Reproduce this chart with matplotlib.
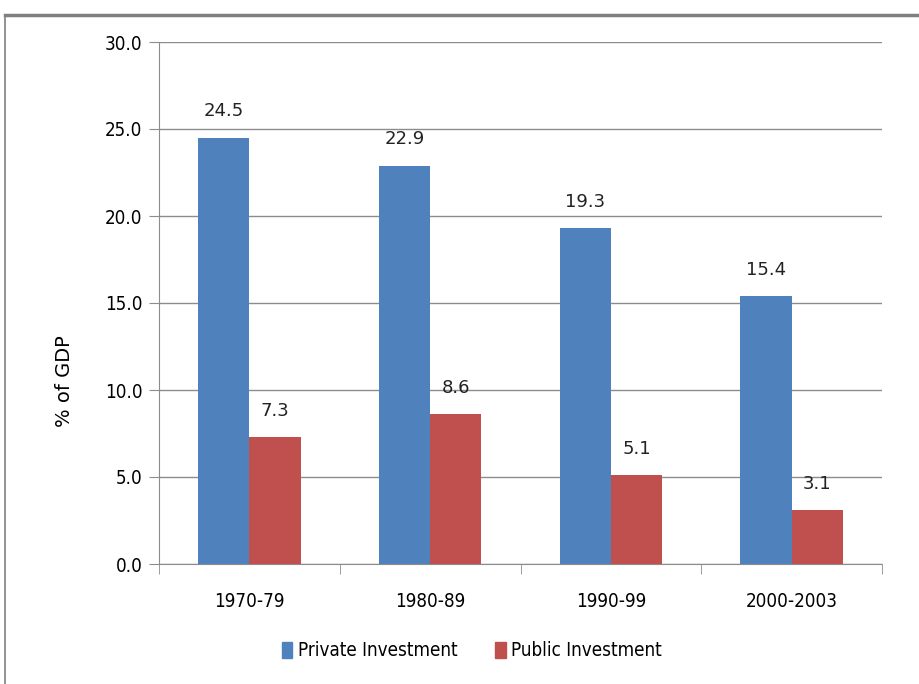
import matplotlib
matplotlib.use("Agg")
import matplotlib.pyplot as plt
import numpy as np
from matplotlib.patches import Rectangle
from matplotlib.lines import Line2D
from matplotlib import font_manager as fm

categories = ["1970-79", "1980-89", "1990-99", "2000-2003"]
private = [24.5, 22.9, 19.3, 15.4]
public = [7.3, 8.6, 5.1, 3.1]
series_names = ["Private Investment", "Public Investment"]
yticks = [0, 5, 10, 15, 20, 25, 30]

# find a narrow/condensed font if any is installed
cands = []
for f in fm.fontManager.ttflist:
    nm = f.name.lower()
    fn = f.fname.lower()
    if ("narrow" in nm or "condensed" in nm or "narrow" in fn or "condensed" in fn
            or f.stretch in ("condensed", "semi-condensed", "extra-condensed")):
        if f.weight in (400, "normal", "regular") and f.style == "normal" and "semi" not in fn and "extra" not in fn:
            cands.append(f)
narrow_fp = None
pref = ["liberationsansnarrow-regular", "dejavusanscondensed.ttf", "roboto", "opensans", "noto"]
for p in pref:
    for f in cands:
        if p in f.fname.lower().replace(" ", "").replace("_", ""):
            narrow_fp = fm.FontProperties(fname=f.fname)
            break
    if narrow_fp is not None:
        break
if narrow_fp is None and cands:
    narrow_fp = fm.FontProperties(fname=cands[0].fname)
if narrow_fp is None:
    narrow_fp = fm.FontProperties(family="DejaVu Sans")

def nfp(size):
    p = narrow_fp.copy()
    p.set_size(size)
    return p

blue = "#4F81BD"
red = "#C0504D"

fig = plt.figure(figsize=(9.19, 6.84), dpi=100)
W, H = 919, 684
ax = fig.add_axes([159 / W, 1 - 564 / H, (882 - 159) / W, (564 - 42) / H])

x = np.arange(len(categories))
bw = 0.283
ax.bar(x - bw / 2, private, bw, color=blue, zorder=3)
ax.bar(x + bw / 2, public, bw, color=red, zorder=3)

for xi, v in zip(x, private):
    ax.text(xi - bw / 2, v + 1.0, f"{v:.1f}", ha="center", va="bottom", fontsize=13, family="DejaVu Sans", color="#222222")
for xi, v in zip(x, public):
    ax.text(xi + bw / 2, v + 1.0, f"{v:.1f}", ha="center", va="bottom", fontsize=13, family="DejaVu Sans", color="#222222")

ax.set_xlim(-0.5, len(categories) - 0.5)
ax.set_ylim(0, 30)
ax.set_yticks(yticks)
ax.set_yticklabels([f"{t:.1f}" for t in yticks], fontproperties=nfp(13.5))
ax.grid(axis="y", color="#8c8c8c", linewidth=1.0, zorder=0)
ax.set_xticks(x)
ax.set_xticklabels(categories, fontproperties=nfp(13.5))
ax.tick_params(axis="x", length=0, pad=20)
ax.set_xticks(np.arange(-0.5, len(categories)), minor=True)
ax.tick_params(axis="x", which="minor", length=7, color="#8c8c8c", direction="out")
ax.tick_params(axis="y", length=7, color="#8c8c8c", direction="out", pad=5)
for s in ["top", "right"]:
    ax.spines[s].set_visible(False)
ax.spines["left"].set_color("#8c8c8c")
ax.spines["bottom"].set_color("#8c8c8c")

fig.text(65 / W, 1 - 381 / H, "% of GDP", rotation=90, ha="center", va="center", fontsize=14, family="DejaVu Sans")

handles = [Rectangle((0, 0), 1, 1, color=blue), Rectangle((0, 0), 1, 1, color=red)]
fig.legend(handles, series_names, loc="center", bbox_to_anchor=(472 / W, 1 - 651 / H), ncol=2, frameon=False,
           prop=nfp(13.5), handlelength=0.55, handleheight=0.9, handletextpad=0.3, columnspacing=2.0)

# outer frame lines (top and left)
fig.add_artist(Line2D([5 / W, 1], [1 - 15 / H, 1 - 15 / H], color="#7f7f7f", linewidth=2.5, transform=fig.transFigure))
fig.add_artist(Line2D([5 / W, 5 / W], [0, 1 - 15 / H], color="#7f7f7f", linewidth=1.2, transform=fig.transFigure))

fig.savefig("out.png", dpi=100)
